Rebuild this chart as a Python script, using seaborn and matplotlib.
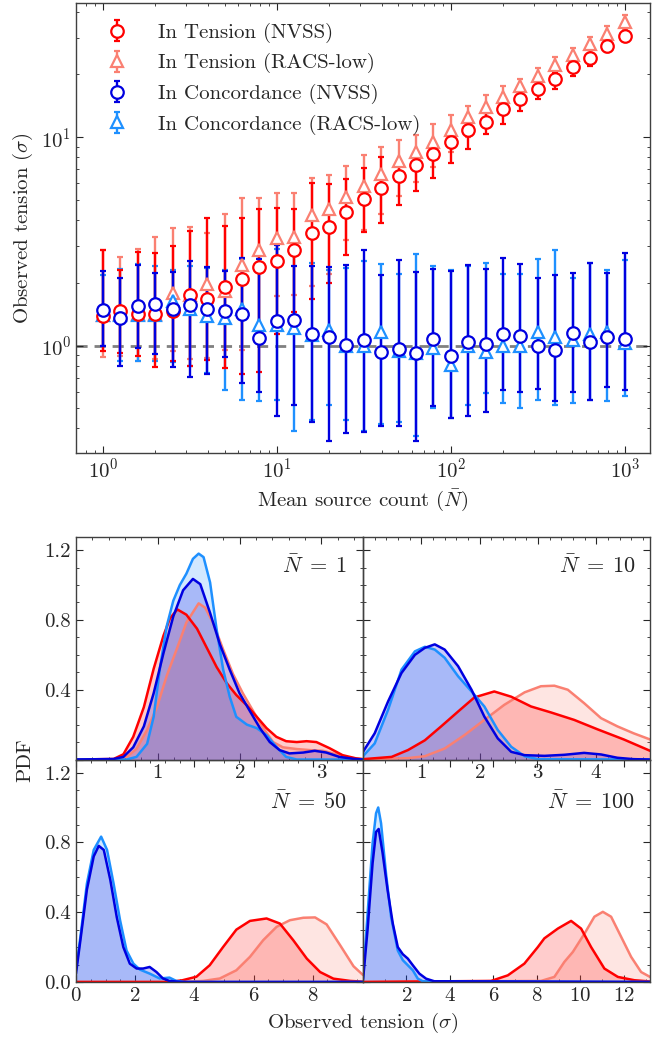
import numpy as np
import pandas as pd
import matplotlib
matplotlib.use("Agg")
import matplotlib.pyplot as plt
import seaborn as sns
from matplotlib.ticker import MultipleLocator, NullFormatter, LogLocator, FixedLocator

# ---------------- data: top panel ----------------
mean_counts = [1.0, 1.259, 1.585, 1.995, 2.512, 3.162, 3.981, 5.012, 6.310, 7.943,
               10.0, 12.59, 15.85, 19.95, 25.12, 31.62, 39.81, 50.12, 63.10, 79.43,
               100.0, 125.9, 158.5, 199.5, 251.2, 316.2, 398.1, 501.2, 631.0, 794.3, 1000.0]

tens_nvss = [1.385, 1.47, 1.42, 1.41, 1.46, 1.75, 1.67, 1.90, 2.09, 2.38, 2.55, 2.86, 3.45, 3.71,
             4.36, 5.05, 5.69, 6.50, 7.33, 8.28, 9.44, 10.8, 11.8, 13.6, 15.2, 17.1, 19.0, 21.7,
             24.1, 27.4, 30.5]
tens_nvss_hi = [2.86, 2.3, 2.81, 2.77, 3.0, 3.55, 4.1, 3.73, 4.1, 4.53, 4.57, 4.5, 6.03, 5.98,
                6.27, 7.11, 8.0, 7.6, 8.4, 9.4, 10.6, 12.0, 13.0, 14.8, 16.4, 18.3, 20.2, 22.9,
                25.3, 28.6, 31.8]
tens_nvss_lo = [0.946, 0.92, 0.89, 0.79, 0.84, 0.80, 0.85, 0.78, 0.73, 0.75, 1.14, 1.45, 1.67, 2.0,
                2.73, 3.51, 3.87, 4.74, 5.52, 6.38, 7.5, 8.75, 10.3, 11.6, 13.4, 15.2, 17.1, 19.6,
                22.0, 25.5, 29.0]

tens_racs = [1.40, 1.42, 1.42, 1.41, 1.78, 1.75, 1.97, 1.83, 2.43, 2.88, 3.27, 3.30, 4.21, 4.53,
             5.14, 5.83, 6.62, 7.65, 8.47, 9.5, 10.8, 12.5, 13.9, 15.5, 17.5, 19.6, 22.3, 24.8,
             28.0, 31.4, 35.6]
tens_racs_hi = [2.86, 2.65, 2.9, 3.33, 3.67, 3.7, 3.47, 4.3, 5.1, 5.1, 5.4, 5.37, 6.38, 6.6,
                7.25, 8.17, 9.0, 9.7, 10.2, 11.5, 12.7, 14.1, 15.9, 17.6, 19.1, 21.5, 24.2, 26.9,
                30.3, 34.0, 38.5]
tens_racs_lo = [0.88, 0.89, 0.84, 0.86, 0.94, 0.86, 0.87, 0.95, 0.95, 1.2, 1.73, 1.75, 1.93, 2.2,
                3.2, 3.6, 4.3, 5.2, 6.1, 7.2, 8.5, 10.0, 11.5, 13.2, 15.1, 17.2, 19.8, 22.2,
                25.3, 28.6, 32.5]

conc_nvss = [1.48, 1.35, 1.55, 1.58, 1.50, 1.56, 1.50, 1.46, 1.42, 1.09, 1.31, 1.33, 1.13, 1.10,
             1.01, 1.06, 0.93, 0.96, 0.92, 1.08, 0.89, 1.04, 1.02, 1.13, 1.11, 1.00, 0.95, 1.15,
             1.04, 1.10, 1.07]
conc_nvss_hi = [2.27, 2.10, 2.43, 2.23, 2.25, 2.55, 2.38, 2.27, 2.62, 2.6, 3.04, 2.4, 2.40, 2.38,
                2.43, 2.86, 2.19, 2.56, 2.25, 2.33, 2.27, 2.43, 2.33, 2.63, 2.45, 2.10, 2.18, 2.23,
                2.49, 2.23, 2.78]
conc_nvss_lo = [0.995, 0.80, 0.975, 0.91, 0.79, 0.71, 0.73, 0.88, 0.66, 0.60, 0.46, 0.52, 0.43, 0.35,
                0.38, 0.386, 0.41, 0.41, 0.35, 0.515, 0.45, 0.46, 0.48, 0.61, 0.60, 0.62, 0.54, 0.60,
                0.55, 0.63, 0.61]

conc_racs = [1.40, 1.40, 1.40, 1.40, 1.64, 1.50, 1.39, 1.35, 1.50, 1.25, 1.25, 1.21, 1.12, 1.19,
             1.0, 1.0, 1.16, 0.94, 0.92, 0.97, 0.81, 1.0, 0.93, 0.99, 1.0, 1.16, 1.10, 1.06,
             1.14, 1.16, 1.03]
conc_racs_hi = [2.17, 2.33, 2.45, 2.4, 2.31, 2.4, 2.35, 2.3, 2.6, 2.7, 2.9, 3.04, 2.5, 2.3,
                2.35, 2.55, 2.45, 2.2, 2.75, 2.4, 2.3, 2.4, 2.49, 2.2, 2.2, 2.6, 2.88, 2.1,
                2.5, 2.3, 2.58]
conc_racs_lo = [1.0, 0.84, 0.84, 0.84, 0.83, 0.80, 0.74, 0.61, 0.55, 0.54, 0.55, 0.39, 0.44, 0.52,
                0.44, 0.39, 0.42, 0.43, 0.37, 0.50, 0.45, 0.52, 0.59, 0.53, 0.50, 0.55, 0.52, 0.53,
                0.55, 0.54, 0.57]

# ---------------- data: PDF panels ----------------
n1_red_x = [0.0, 0.46, 0.58, 0.70, 0.83, 0.95, 1.07, 1.15, 1.24, 1.35, 1.48, 1.60, 1.72, 1.84, 1.96,
            2.09, 2.21, 2.33, 2.45, 2.57, 2.70, 2.82, 2.94, 3.10, 3.26, 3.43, 3.51]
n1_red_y = [0.0, 0.003, 0.03, 0.13, 0.30, 0.52, 0.71, 0.81, 0.86, 0.83, 0.75, 0.64, 0.53, 0.44, 0.37,
            0.31, 0.245, 0.18, 0.13, 0.105, 0.10, 0.105, 0.10, 0.065, 0.025, 0.006, 0.002]
n1_salmon_x = [0.0, 0.46, 0.62, 0.74, 0.87, 0.99, 1.11, 1.23, 1.35, 1.50, 1.58, 1.68, 1.80, 1.92, 2.04,
               2.17, 2.29, 2.41, 2.53, 2.70, 2.86, 3.02, 3.18, 3.35, 3.51]
n1_salmon_y = [0.0, 0.0, 0.015, 0.06, 0.17, 0.30, 0.48, 0.63, 0.785, 0.895, 0.87, 0.78, 0.63, 0.49, 0.38,
               0.275, 0.18, 0.10, 0.07, 0.06, 0.054, 0.05, 0.03, 0.01, 0.002]
n1_lblue_x = [0.0, 0.62, 0.74, 0.87, 0.95, 1.03, 1.11, 1.19, 1.27, 1.35, 1.43, 1.50, 1.56, 1.64, 1.72,
              1.80, 1.88, 1.96, 2.09, 2.21, 2.33, 2.45, 2.57, 2.70, 3.51]
n1_lblue_y = [0.0, 0.0, 0.015, 0.09, 0.245, 0.535, 0.765, 0.91, 1.0, 1.065, 1.15, 1.18, 1.16, 1.015, 0.745,
              0.515, 0.36, 0.245, 0.20, 0.18, 0.14, 0.073, 0.015, 0.0, 0.0]
n1_blue_x = [0.0, 0.46, 0.58, 0.70, 0.83, 0.95, 1.07, 1.19, 1.31, 1.43, 1.52, 1.64, 1.76, 1.88, 2.00,
             2.13, 2.25, 2.37, 2.49, 2.61, 2.78, 2.92, 3.06, 3.22, 3.39, 3.51]
n1_blue_y = [0.0, 0.003, 0.015, 0.07, 0.19, 0.38, 0.61, 0.82, 0.97, 1.035, 1.005, 0.84, 0.66, 0.515, 0.38,
             0.275, 0.18, 0.10, 0.054, 0.035, 0.04, 0.05, 0.04, 0.015, 0.004, 0.0]

n10_red_x = [0.0, 0.49, 0.77, 1.06, 1.34, 1.63, 1.91, 2.25, 2.54, 2.88, 3.22, 3.62, 4.02, 4.47, 4.92]
n10_red_y = [0.002, 0.015, 0.054, 0.11, 0.19, 0.275, 0.356, 0.39, 0.36, 0.304, 0.27, 0.227, 0.173, 0.115, 0.05]
n10_salmon_x = [0.0, 0.77, 1.06, 1.40, 1.74, 2.08, 2.42, 2.77, 3.05, 3.28, 3.51, 3.79, 4.08, 4.36, 4.64, 4.92]
n10_salmon_y = [0.0, 0.008, 0.019, 0.063, 0.14, 0.227, 0.313, 0.385, 0.42, 0.423, 0.40, 0.323, 0.237, 0.19, 0.15, 0.115]
n10_lblue_x = [0.0, 0.2, 0.43, 0.66, 0.89, 1.06, 1.23, 1.40, 1.63, 1.86, 2.08, 2.31, 2.54, 2.77, 3.0, 4.92]
n10_lblue_y = [0.019, 0.092, 0.285, 0.515, 0.62, 0.646, 0.63, 0.583, 0.477, 0.39, 0.304, 0.169, 0.073, 0.019, 0.002, 0.0]
n10_blue_x = [0.0, 0.2, 0.43, 0.66, 0.89, 1.06, 1.23, 1.40, 1.63, 1.86, 2.08, 2.31, 2.54, 2.77, 3.11, 3.45,
              3.79, 4.08, 4.36, 4.64, 4.92]
n10_blue_y = [0.044, 0.15, 0.333, 0.496, 0.60, 0.64, 0.66, 0.63, 0.535, 0.40, 0.246, 0.121, 0.044, 0.025, 0.021,
              0.027, 0.038, 0.029, 0.01, 0.002, 0.0]

n50_red_x = [0.0, 3.16, 3.6, 4.07, 4.52, 4.97, 5.42, 5.88, 6.44, 6.89, 7.34, 7.80, 8.25, 8.70, 9.27, 9.7]
n50_red_y = [0.0, 0.0, 0.01, 0.03, 0.096, 0.20, 0.30, 0.35, 0.364, 0.335, 0.24, 0.134, 0.057, 0.019, 0.006, 0.002]
n50_salmon_x = [0.0, 3.6, 4.3, 4.86, 5.42, 5.88, 6.33, 6.78, 7.23, 7.68, 8.08, 8.47, 8.93, 9.38, 9.7]
n50_salmon_y = [0.0, 0.0, 0.006, 0.02, 0.067, 0.144, 0.24, 0.316, 0.354, 0.368, 0.37, 0.33, 0.21, 0.09, 0.04]
n50_lblue_x = [0.0, 0.15, 0.37, 0.6, 0.85, 1.05, 1.27, 1.49, 1.71, 1.94, 2.16, 2.49, 2.83, 3.16, 3.39, 3.7, 9.7]
n50_lblue_y = [0.067, 0.26, 0.565, 0.757, 0.833, 0.757, 0.565, 0.354, 0.18, 0.105, 0.071, 0.048, 0.02, 0.025,
               0.006, 0.0, 0.0]
n50_blue_x = [0.0, 0.15, 0.37, 0.6, 0.77, 0.94, 1.16, 1.38, 1.60, 1.82, 2.05, 2.27, 2.49, 2.72, 2.94, 3.16, 3.6, 9.7]
n50_blue_y = [0.048, 0.24, 0.53, 0.72, 0.78, 0.757, 0.585, 0.37, 0.20, 0.105, 0.077, 0.077, 0.086, 0.057, 0.02,
              0.006, 0.0, 0.0]

n100_red_x = [0.0, 5.89, 6.66, 7.42, 8.04, 8.34, 8.96, 9.57, 10.03, 10.49, 11.1, 11.72, 12.48, 13.2]
n100_red_y = [0.0, 0.006, 0.038, 0.105, 0.20, 0.25, 0.306, 0.35, 0.306, 0.20, 0.077, 0.029, 0.01, 0.003]
n100_salmon_x = [0.0, 8.19, 8.80, 9.26, 9.65, 10.2, 10.64, 11.03, 11.41, 11.87, 12.33, 12.79, 13.2]
n100_salmon_y = [0.0, 0.006, 0.029, 0.115, 0.172, 0.28, 0.374, 0.402, 0.374, 0.259, 0.144, 0.057, 0.029]
n100_lblue_x = [0.0, 0.21, 0.44, 0.6, 0.70, 0.83, 1.06, 1.29, 1.6, 1.83, 2.06, 2.29, 2.52, 2.75, 13.2]
n100_lblue_y = [0.02, 0.39, 0.795, 0.967, 1.0, 0.91, 0.62, 0.374, 0.18, 0.125, 0.096, 0.067, 0.019, 0.004, 0.0]
n100_blue_x = [0.0, 0.21, 0.44, 0.6, 0.72, 0.9, 1.13, 1.37, 1.6, 1.83, 2.06, 2.29, 2.59, 2.9, 3.28, 13.2]
n100_blue_y = [0.01, 0.30, 0.68, 0.86, 0.877, 0.74, 0.527, 0.335, 0.20, 0.159, 0.134, 0.096, 0.048, 0.019,
               0.004, 0.0]

panel_labels = [r"$\bar{N}\;=\;1$", r"$\bar{N}\;=\;10$", r"$\bar{N}\;=\;50$", r"$\bar{N}\;=\;100$"]
legend_labels = ["In Tension (NVSS)", "In Tension (RACS-low)",
                 "In Concordance (NVSS)", "In Concordance (RACS-low)"]

# ---------------- style ----------------
RED = "#ff0000"
SALMON = "#fa8072"
BLUE = "#0000e0"
LBLUE = "#1e90ff"

sns.set_style("ticks")
plt.rcParams.update({
    "font.family": "serif",
    "font.serif": ["cmr10", "DejaVu Serif"],
    "mathtext.fontset": "cm",
    "axes.formatter.use_mathtext": True,
    "axes.unicode_minus": False,
    "axes.edgecolor": "0.25",
    "axes.linewidth": 1.0,
    "xtick.direction": "in",
    "ytick.direction": "in",
    "xtick.top": True,
    "ytick.right": True,
    "xtick.major.size": 5,
    "ytick.major.size": 5,
    "xtick.minor.size": 2.5,
    "ytick.minor.size": 2.5,
    "xtick.minor.visible": True,
    "ytick.minor.visible": True,
    "xtick.color": "0.15",
    "ytick.color": "0.15",
    "font.size": 15,
})

TICK_FS = 15
LABEL_FS = 15
LEG_FS = 15

fig = plt.figure(figsize=(6.7, 10.41), dpi=100)

# ---------------- top panel ----------------
ax = fig.add_axes([0.1134, 0.5648, 0.857, 0.4323])
x = np.array(mean_counts)
ebkw = dict(capsize=2.5, elinewidth=1.7, capthick=1.7, markersize=9, mew=1.6,
            mfc="white", linestyle="none")

def eb(vals, lo, hi, color, marker, label):
    v = np.array(vals)
    yerr = np.vstack([v - np.array(lo), np.array(hi) - v])
    return ax.errorbar(x, v, yerr=yerr, color=color, marker=marker, label=label, **ebkw)

h_racs_t = eb(tens_racs, tens_racs_lo, tens_racs_hi, SALMON, "^", legend_labels[1])
h_racs_c = eb(conc_racs, conc_racs_lo, conc_racs_hi, LBLUE, "^", legend_labels[3])
h_nvss_t = eb(tens_nvss, tens_nvss_lo, tens_nvss_hi, RED, "o", legend_labels[0])
h_nvss_c = eb(conc_nvss, conc_nvss_lo, conc_nvss_hi, BLUE, "o", legend_labels[2])
ax.axhline(1.0, color="0.5", ls="--", lw=2, dashes=(4, 2.5), zorder=0)

ax.set_xscale("log")
ax.set_yscale("log")
ax.set_xlim(0.7, 1400)
ax.set_ylim(0.305, 44)
ax.yaxis.set_minor_formatter(NullFormatter())
ax.xaxis.set_minor_formatter(NullFormatter())
ax.set_xlabel(r"Mean source count ($\bar{N}$)", fontsize=LABEL_FS)
ax.set_ylabel(r"Observed tension ($\sigma$)", fontsize=LABEL_FS)
ax.tick_params(labelsize=TICK_FS)
ax.legend([h_nvss_t, h_racs_t, h_nvss_c, h_racs_c],
          [legend_labels[0], legend_labels[1], legend_labels[2], legend_labels[3]],
          loc="upper left", frameon=False, fontsize=LEG_FS, handlelength=2.0,
          handletextpad=1.0, borderaxespad=0.1, labelspacing=0.5, borderpad=0.85)

# ---------------- PDF panels ----------------
L, W = 0.1134, 0.4284
B0, H = 0.0567, 0.2137
positions = [[L, B0 + H, W, H], [L + W, B0 + H, W, H], [L, B0, W, H], [L + W, B0, W, H]]
xlims = [(0, 3.51), (0, 4.92), (0, 9.7), (0, 13.2)]
panels = [
    [(n1_salmon_x, n1_salmon_y), (n1_red_x, n1_red_y), (n1_lblue_x, n1_lblue_y), (n1_blue_x, n1_blue_y)],
    [(n10_salmon_x, n10_salmon_y), (n10_red_x, n10_red_y), (n10_lblue_x, n10_lblue_y), (n10_blue_x, n10_blue_y)],
    [(n50_salmon_x, n50_salmon_y), (n50_red_x, n50_red_y), (n50_lblue_x, n50_lblue_y), (n50_blue_x, n50_blue_y)],
    [(n100_salmon_x, n100_salmon_y), (n100_red_x, n100_red_y), (n100_lblue_x, n100_lblue_y), (n100_blue_x, n100_blue_y)],
]
colors = [SALMON, RED, LBLUE, BLUE]
label_pos = [(0.945, 0.87), (0.95, 0.87), (0.945, 0.81), (0.95, 0.81)]

for k in range(4):
    a = fig.add_axes(positions[k], zorder=3 if k < 2 else 1)
    if k < 2:
        a.patch.set_alpha(0.0)
    for (xs, ys), c in zip(panels[k], colors):
        a.fill_between(xs, 0, ys, color=c, alpha=0.2, lw=0)
        sns.lineplot(x=xs, y=ys, color=c, lw=1.8, ax=a, legend=False)
    a.set_xlim(*xlims[k])
    a.set_ylim(0, 1.275)
    a.yaxis.set_major_locator(FixedLocator([0.0, 0.4, 0.8, 1.2]))
    a.yaxis.set_minor_locator(MultipleLocator(0.1))
    if k == 0:
        a.set_yticklabels(["", "0.4", "0.8", "1.2"])
    elif k == 2:
        a.set_yticklabels(["0.0", "0.4", "0.8", "1.2"])
    else:
        a.set_yticklabels([])
    if k == 0:
        a.xaxis.set_major_locator(FixedLocator([1, 2, 3]))
        a.xaxis.set_minor_locator(MultipleLocator(0.2))
    elif k == 1:
        a.xaxis.set_major_locator(FixedLocator([1, 2, 3, 4]))
        a.xaxis.set_minor_locator(MultipleLocator(0.2))
    elif k == 2:
        a.xaxis.set_major_locator(FixedLocator([0, 2, 4, 6, 8]))
        a.xaxis.set_minor_locator(MultipleLocator(0.5))
    else:
        a.xaxis.set_major_locator(FixedLocator([2, 4, 6, 8, 10, 12]))
        a.xaxis.set_minor_locator(MultipleLocator(1.0))
    a.tick_params(labelsize=TICK_FS)
    a.set_xlabel("")
    a.set_ylabel("")
    a.text(label_pos[k][0], label_pos[k][1], panel_labels[k], transform=a.transAxes,
           ha="right", va="center", fontsize=16)

fig.text(0.038, 0.27, "PDF", rotation=90, ha="center", va="center", fontsize=LABEL_FS)
fig.text(0.542, 0.017, r"Observed tension ($\sigma$)", ha="center", va="center", fontsize=LABEL_FS)

fig.savefig("out.png", dpi=100)
